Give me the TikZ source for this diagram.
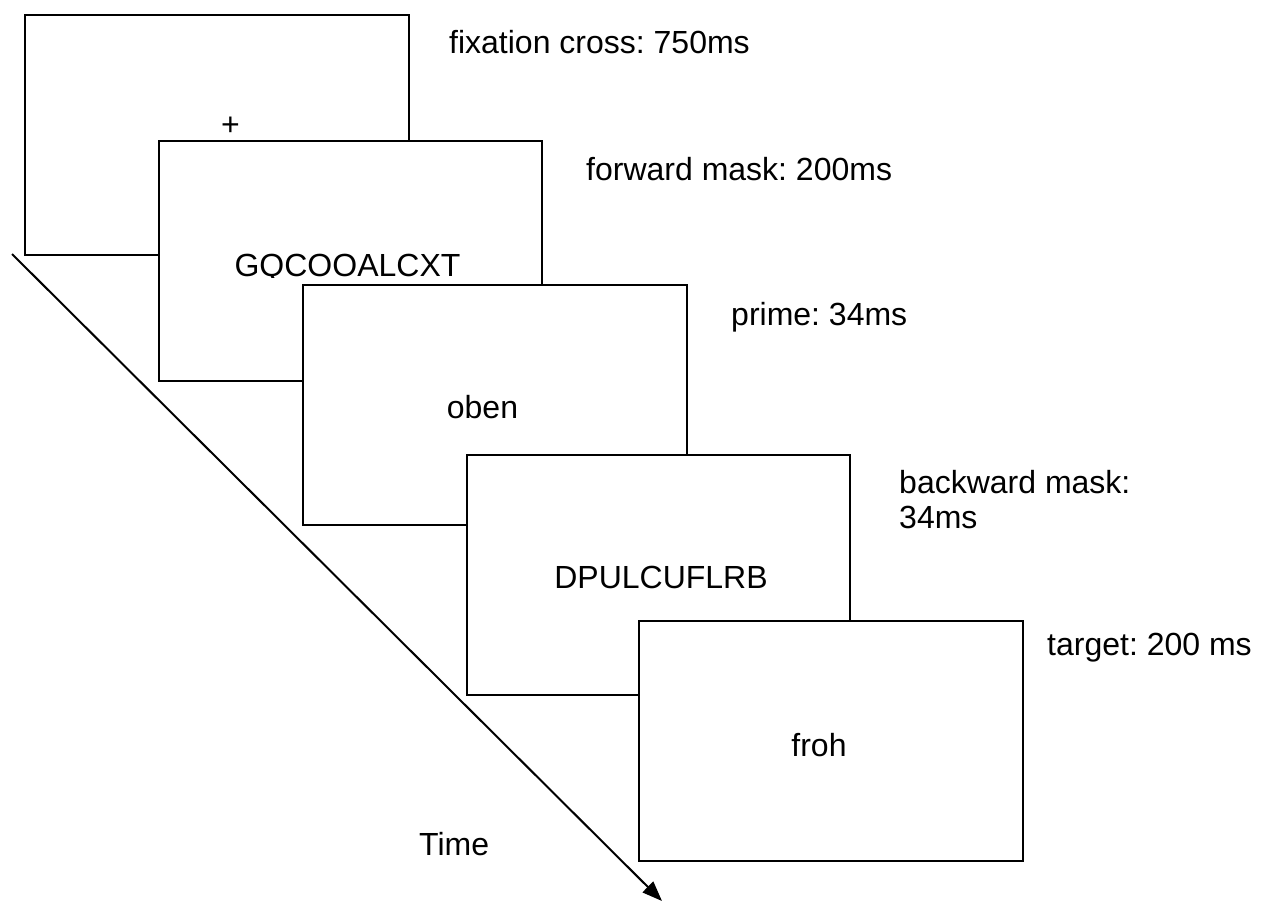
\documentclass[tikz,border=0pt]{standalone}
\usepackage{fontspec}
\setmainfont{Liberation Sans}
\usetikzlibrary{arrows.meta}
\frenchspacing
\begin{document}
\begin{tikzpicture}[x=1pt,y=-1pt,
  screen/.style={draw=black,fill=white,line width=2pt,rectangle,inner sep=0pt,
    minimum width=383.5pt,minimum height=240pt},
  lbl/.style={font=\fontsize{32}{35}\selectfont,inner sep=0pt,anchor=base west},
  stim/.style={font=\fontsize{32}{35}\selectfont,inner sep=0pt,anchor=base},
  timearrow/.style={line width=2pt,-{Triangle[length=20pt,width=15pt]}}]
\useasboundingbox (0,0) rectangle (1269,902);
% time axis
\coordinate (ts) at (12,254);
\coordinate (te) at (662,901);
\draw[timearrow] (ts) -- (te);
\node[lbl] (time) at (419,855) {Time};
% screens
\node[screen] (b1) at (216.75,134.5) {};
\node[stim] (s1) at (230.5,135) {+};
\node[screen] (b2) at (350.5,261) {};
\begin{scope}
\clip (158,141) rectangle (543,277);
\node[stim] (s2) at (347.5,276) {GQCOOALCXT};
\end{scope}
\node[screen] (b3) at (495,405) {};
\begin{scope}
\clip (303,285) rectangle (687,419);
\node[stim] (s3) at (482.5,418.5) {oben};
\end{scope}
\node[screen] (b4) at (658.5,574.7) {};
\begin{scope}
\clip (467,455) rectangle (851,588.5);
\node[stim] (s4) at (661,588) {DPULCUFLRB};
\end{scope}
\node[screen] (b5) at (831,741) {};
\begin{scope}
\clip (639,621) rectangle (1023,756.5);
\node[stim] (s5) at (819,756) {froh};
\end{scope}
% duration labels
\node[lbl] (l1) at (449,53) {fixation cross: 750ms};
\node[lbl] (l2) at (586,180) {forward mask: 200ms};
\node[lbl] (l3) at (731,325) {prime: 34ms};
\node[lbl] (l4a) at (899,493) {backward mask:};
\node[lbl] (l4b) at (899,528) {34ms};
\node[lbl] (l5) at (1047,655) {target: 200 ms};
\end{tikzpicture}
\end{document}
